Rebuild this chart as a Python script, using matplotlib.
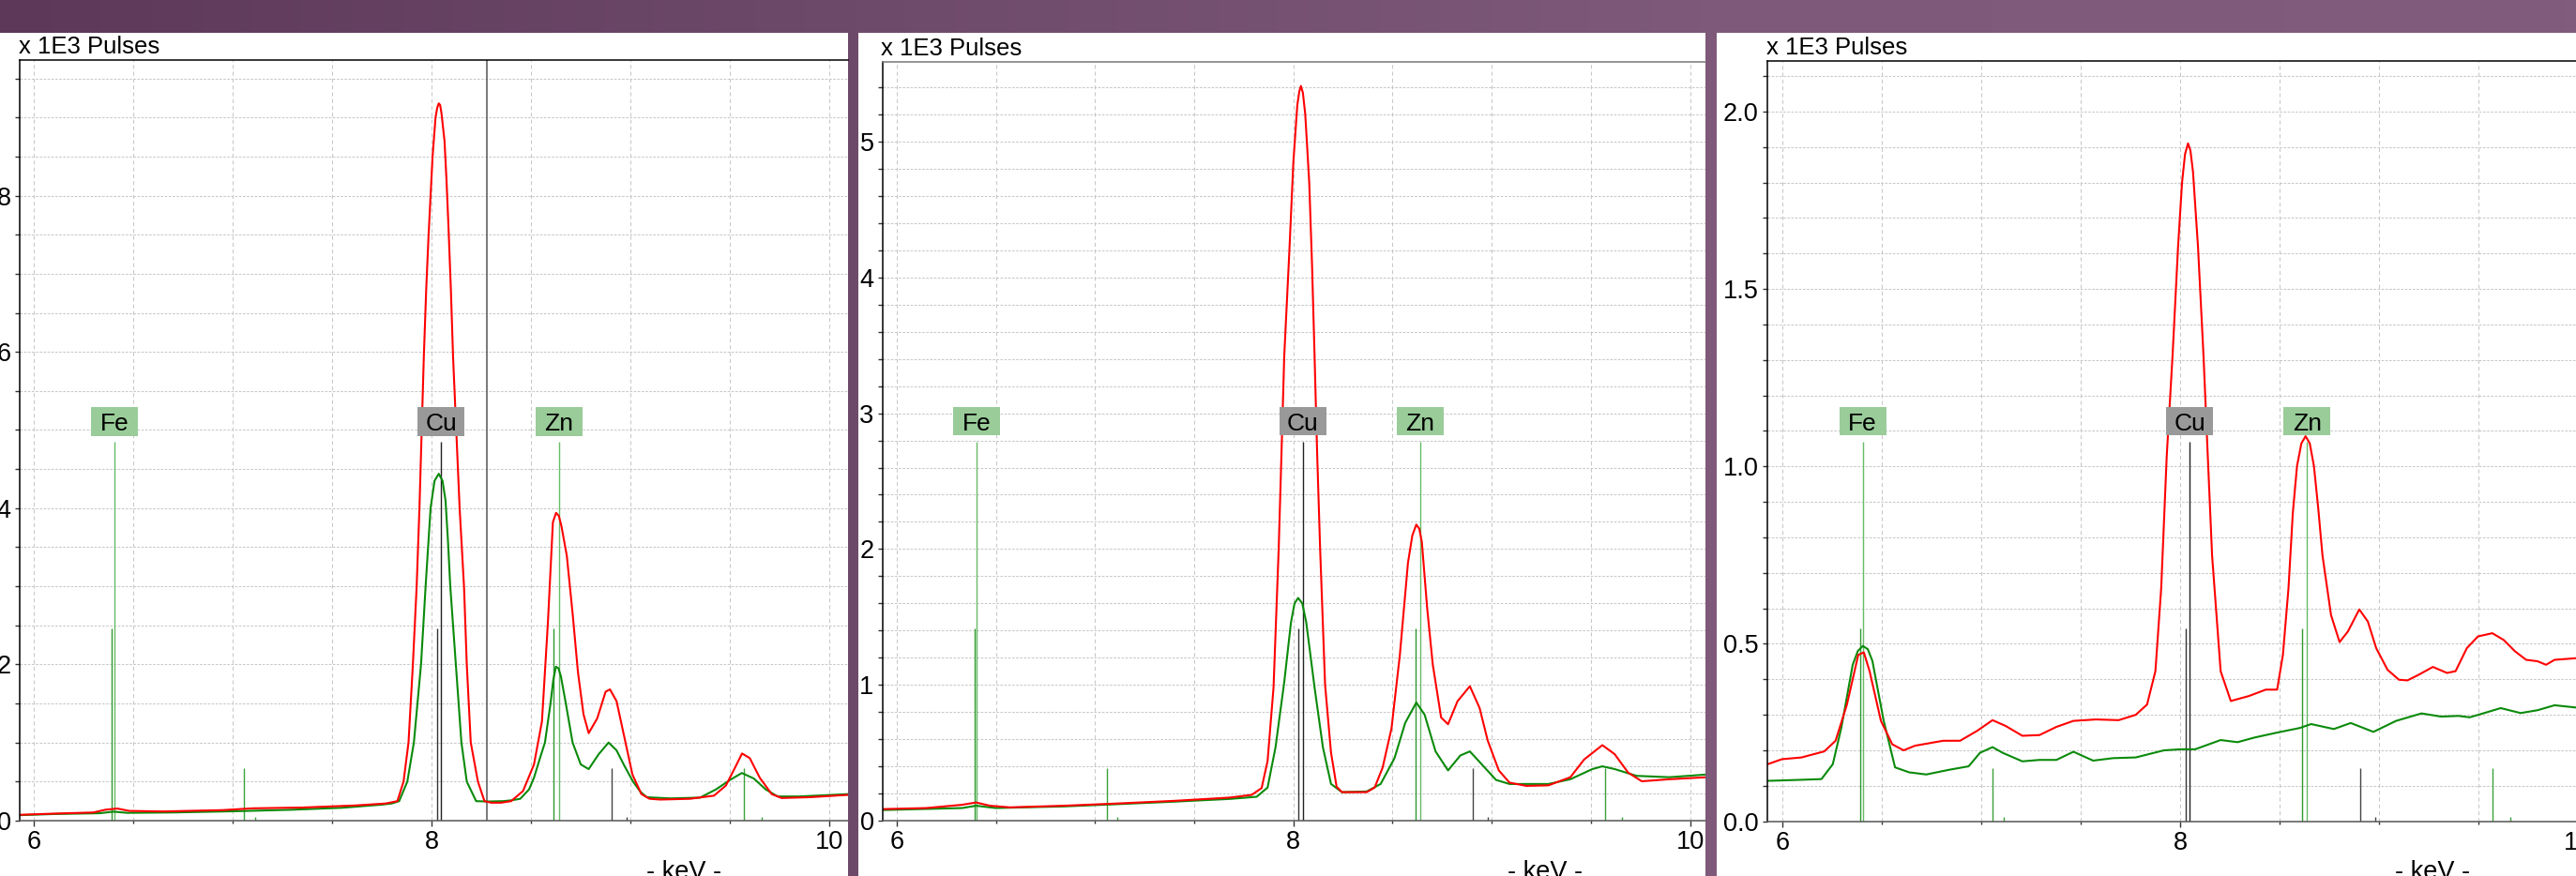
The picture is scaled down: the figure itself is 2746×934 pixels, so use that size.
import numpy as np
import matplotlib
matplotlib.use("Agg")
import matplotlib.pyplot as plt
from matplotlib.patches import Rectangle
from matplotlib.ticker import MultipleLocator, FormatStrFormatter
from matplotlib.colors import LinearSegmentedColormap

plt.rcParams['font.family'] = ['Liberation Sans', 'DejaVu Sans']

# ---------------- data ----------------
# Panel 1 spectra (keV, x1E3 pulses)
p1_red_kev = [5.929, 6.10, 6.30, 6.36, 6.42, 6.48, 6.65, 6.95, 7.10, 7.35, 7.62, 7.77,
              7.828, 7.859, 7.884, 7.906, 7.925, 7.939, 7.961, 7.973, 7.985, 8.005, 8.02, 8.028,
              8.036, 8.043, 8.05, 8.065, 8.075, 8.085, 8.097, 8.108, 8.141, 8.163, 8.177, 8.197,
              8.233, 8.266, 8.30, 8.35, 8.40, 8.46, 8.515, 8.555, 8.585, 8.61, 8.626, 8.64,
              8.653, 8.68, 8.71, 8.736, 8.764, 8.79, 8.833, 8.875, 8.897, 8.93, 8.97, 9.01,
              9.055, 9.096, 9.15, 9.30, 9.42, 9.48, 9.53, 9.561, 9.60, 9.65, 9.71, 9.76,
              9.90, 10.094]
p1_red_val = [0.075, 0.09, 0.105, 0.14, 0.155, 0.125, 0.118, 0.135, 0.158, 0.168, 0.195, 0.22,
              0.25, 0.5, 1.0, 2.0, 3.0, 4.0, 5.94, 6.8, 7.5, 8.5, 9.0, 9.12,
              9.18, 9.16, 9.05, 8.7, 8.2, 7.6, 6.8, 5.94, 4.0, 3.0, 2.0, 1.0,
              0.5, 0.25, 0.23, 0.23, 0.25, 0.38, 0.72, 1.27, 2.54, 3.82, 3.94, 3.9,
              3.77, 3.39, 2.63, 1.9, 1.36, 1.12, 1.31, 1.65, 1.68, 1.53, 1.06, 0.59,
              0.34, 0.28, 0.27, 0.28, 0.32, 0.45, 0.7, 0.86, 0.8, 0.55, 0.34, 0.29,
              0.30, 0.33]
p1_grn_kev = [5.929, 6.10, 6.33, 6.40, 6.47, 6.70, 7.00, 7.30, 7.55, 7.75, 7.80, 7.837,
              7.878, 7.911, 7.947, 7.97, 7.995, 8.015, 8.036, 8.055, 8.07, 8.082, 8.094, 8.122,
              8.15, 8.177, 8.224, 8.28, 8.36, 8.40, 8.446, 8.49, 8.515, 8.545, 8.57, 8.598,
              8.612, 8.625, 8.638, 8.65, 8.675, 8.709, 8.75, 8.79, 8.84, 8.89, 8.93, 8.97,
              9.013, 9.05, 9.082, 9.20, 9.35, 9.43, 9.50, 9.56, 9.62, 9.68, 9.74, 9.85, 10.094]
p1_grn_val = [0.07, 0.085, 0.095, 0.115, 0.10, 0.105, 0.12, 0.14, 0.165, 0.205, 0.22, 0.25,
              0.5, 1.0, 2.0, 3.0, 4.0, 4.35, 4.44, 4.35, 4.1, 3.6, 3.0, 2.0,
              1.0, 0.5, 0.25, 0.245, 0.25, 0.26, 0.28, 0.4, 0.55, 0.8, 1.0, 1.5,
              1.8, 1.97, 1.95, 1.85, 1.5, 1.0, 0.72, 0.66, 0.85, 1.0, 0.9, 0.7,
              0.5, 0.37, 0.3, 0.285, 0.295, 0.4, 0.52, 0.61, 0.54, 0.4, 0.31, 0.31, 0.34]

# Panel 2 spectra
p2_red_kev = [5.924, 6.15, 6.33, 6.40, 6.47, 6.57, 6.845, 7.12, 7.40, 7.68, 7.79, 7.84,
              7.87, 7.90, 7.926, 7.94, 7.954, 7.98, 8.00, 8.02, 8.03, 8.038, 8.048, 8.06,
              8.08, 8.094, 8.107, 8.12, 8.135, 8.16, 8.19, 8.218, 8.245, 8.37, 8.41, 8.45,
              8.495, 8.537, 8.578, 8.60, 8.62, 8.635, 8.648, 8.675, 8.703, 8.745, 8.78, 8.828,
              8.89, 8.939, 8.98, 9.036, 9.09, 9.175, 9.286, 9.397, 9.466, 9.558, 9.62, 9.688,
              9.757, 9.896, 10.085]
p2_red_val = [0.085, 0.093, 0.117, 0.134, 0.11, 0.098, 0.11, 0.127, 0.146, 0.17, 0.19, 0.24,
              0.44, 0.98, 2.0, 2.7, 3.42, 4.2, 4.85, 5.27, 5.37, 5.41, 5.36, 5.2,
              4.7, 4.1, 3.42, 2.7, 2.0, 1.0, 0.5, 0.25, 0.21, 0.21, 0.244, 0.39,
              0.68, 1.22, 1.9, 2.1, 2.18, 2.15, 2.05, 1.56, 1.15, 0.76, 0.71, 0.88,
              0.99, 0.83, 0.59, 0.37, 0.28, 0.256, 0.26, 0.32, 0.45, 0.556, 0.49, 0.354,
              0.29, 0.305, 0.32]
p2_grn_kev = [5.924, 6.33, 6.40, 6.50, 6.845, 7.12, 7.40, 7.68, 7.815, 7.87, 7.91, 7.954,
              7.988, 8.006, 8.024, 8.045, 8.065, 8.107, 8.149, 8.19, 8.245, 8.37, 8.44, 8.51,
              8.564, 8.62, 8.662, 8.717, 8.78, 8.842, 8.89, 8.953, 9.022, 9.09, 9.286, 9.397,
              9.508, 9.558, 9.62, 9.73, 9.896, 10.085]
p2_grn_val = [0.078, 0.093, 0.11, 0.093, 0.105, 0.122, 0.14, 0.16, 0.176, 0.244, 0.54, 1.02,
              1.46, 1.6, 1.64, 1.6, 1.46, 0.98, 0.54, 0.27, 0.21, 0.215, 0.27, 0.46,
              0.72, 0.87, 0.78, 0.51, 0.37, 0.48, 0.51, 0.41, 0.30, 0.27, 0.27, 0.305,
              0.38, 0.40, 0.38, 0.33, 0.32, 0.34]

# Panel 3 spectra
p3_red_kev = [5.927, 5.998, 6.097, 6.211, 6.268, 6.325, 6.382, 6.41, 6.439, 6.496, 6.553, 6.61,
              6.667, 6.809, 6.894, 6.98, 7.057, 7.122, 7.207, 7.293, 7.378, 7.464, 7.577, 7.691,
              7.777, 7.834, 7.876, 7.905, 7.933, 7.962, 7.99, 8.01, 8.025, 8.04, 8.052, 8.065,
              8.09, 8.118, 8.14, 8.161, 8.204, 8.255, 8.346, 8.431, 8.488, 8.517, 8.545, 8.567,
              8.588, 8.61, 8.631, 8.652, 8.673, 8.695, 8.716, 8.759, 8.802, 8.844, 8.901, 8.944,
              8.986, 9.043, 9.10, 9.143, 9.20, 9.271, 9.342, 9.385, 9.442, 9.498, 9.57, 9.627,
              9.684, 9.74, 9.797, 9.84, 9.883, 10.001]
p3_red_val = [0.161, 0.175, 0.18, 0.197, 0.227, 0.329, 0.469, 0.476, 0.423, 0.283, 0.217, 0.20,
              0.213, 0.227, 0.227, 0.255, 0.285, 0.269, 0.241, 0.243, 0.266, 0.283, 0.287, 0.285,
              0.30, 0.329, 0.423, 0.656, 1.03, 1.31, 1.62, 1.80, 1.88, 1.91, 1.89, 1.83,
              1.62, 1.31, 1.02, 0.749, 0.423, 0.339, 0.353, 0.371, 0.371, 0.469, 0.656, 0.87,
              1.001, 1.065, 1.085, 1.065, 1.001, 0.88, 0.749, 0.581, 0.505, 0.535, 0.597, 0.563,
              0.488, 0.427, 0.399, 0.397, 0.413, 0.435, 0.418, 0.423, 0.488, 0.521, 0.53, 0.511,
              0.479, 0.455, 0.451, 0.441, 0.455, 0.46]
p3_grn_kev = [5.927, 6.097, 6.197, 6.254, 6.297, 6.354, 6.38, 6.405, 6.43, 6.453, 6.51, 6.567,
              6.638, 6.724, 6.837, 6.937, 6.994, 7.057, 7.108, 7.207, 7.293, 7.378, 7.464, 7.563,
              7.663, 7.777, 7.919, 8.004, 8.076, 8.204, 8.289, 8.374, 8.488, 8.602, 8.659, 8.773,
              8.858, 8.972, 9.086, 9.214, 9.313, 9.399, 9.456, 9.541, 9.612, 9.712, 9.797, 9.883,
              10.001]
p3_grn_val = [0.114, 0.117, 0.119, 0.161, 0.264, 0.441, 0.48, 0.494, 0.485, 0.452, 0.283, 0.152,
              0.138, 0.132, 0.145, 0.155, 0.193, 0.209, 0.193, 0.169, 0.173, 0.173, 0.196, 0.171,
              0.178, 0.180, 0.200, 0.203, 0.203, 0.229, 0.223, 0.236, 0.250, 0.263, 0.274, 0.260,
              0.277, 0.252, 0.283, 0.304, 0.295, 0.297, 0.293, 0.307, 0.319, 0.305, 0.313, 0.327,
              0.32]

# element markers
element_names = ['Fe', 'Cu', 'Zn']
element_label_kev = [6.404, 8.048, 8.639]
element_alpha2_kev = [6.391, 8.027, 8.615]
element_beta_kev = [7.058, 8.905, 9.572]
element_edge_kev = [7.112, 8.979, 9.659]

y_label_text = 'x 1E3 Pulses'
x_label_text = '- keV -'
cursor_kev = 8.278

# ---------------- styles / layout ----------------
W, H = 2746, 934
fig = plt.figure(figsize=(W / 100, H / 100), dpi=100)

bg = fig.add_axes([0, 0, 1, 1])
cmap = LinearSegmentedColormap.from_list('p', [(0, '#5d3859'), (0.33, '#6e4a6a'), (0.66, '#7e5979'), (1, '#825c7c')])
grad = np.linspace(0, 1, 512).reshape(1, -1)
bg.imshow(grad, aspect='auto', cmap=cmap, extent=[0, W, 0, H])
bg.set_xlim(0, W)
bg.set_ylim(H, 0)
bg.axis('off')
for (x0, x1) in [(0, 904), (915, 1818), (1830, W)]:
    bg.add_patch(Rectangle((x0, 35), x1 - x0, H - 35, facecolor='white', edgecolor='none'))

panels = [
    dict(px=(21, 904, 64, 875), xlim=(5.929, 10.094), ylim=(0, 9.735), major=2, minor=0.5,
         fmt='%d', red=(p1_red_kev, p1_red_val), grn=(p1_grn_kev, p1_grn_val), cursor=True, top='black'),
    dict(px=(940.7, 1818, 66, 875), xlim=(5.928, 10.078), ylim=(0, 5.587), major=1, minor=0.2,
         fmt='%d', red=(p2_red_kev, p2_red_val), grn=(p2_grn_kev, p2_grn_val), cursor=False, top='#777777'),
    dict(px=(1884, 2748.2, 64.7, 875.7), xlim=(5.925, 10.001), ylim=(0, 2.143), major=0.5, minor=0.1,
         fmt='%.1f', red=(p3_red_kev, p3_red_val), grn=(p3_grn_kev, p3_grn_val), cursor=False, top='black'),
]

label_green = '#99cc99'
label_gray = '#999999'

for p in panels:
    l, r, t, b = p['px']
    ax = fig.add_axes([l / W, (H - b) / H, (r - l) / W, (b - t) / H])
    ax.set_facecolor('none')
    ax.set_xlim(*p['xlim'])
    ax.set_ylim(*p['ylim'])
    px_per_kev = (r - l) / (p['xlim'][1] - p['xlim'][0])
    ax_h = b - t

    ax.xaxis.set_major_locator(MultipleLocator(2))
    ax.xaxis.set_minor_locator(MultipleLocator(0.5))
    ax.yaxis.set_major_locator(MultipleLocator(p['major']))
    ax.yaxis.set_minor_locator(MultipleLocator(p['minor']))
    ax.yaxis.set_major_formatter(FormatStrFormatter(p['fmt']))
    ax.set_axisbelow(True)
    ax.grid(which='both', axis='x', color='#c8c8c8', linestyle=(0, (4, 3)), lw=0.75)
    ax.grid(which='both', axis='y', color='#c8c8c8', linestyle=(0, (2.5, 1.5)), lw=0.75)

    ax.tick_params(axis='x', which='major', direction='out', length=4.3, width=1, color='#333333',
                   labelsize=19.5, pad=3)
    ax.tick_params(axis='x', which='minor', direction='out', length=2.5, width=1, color='#333333')
    ax.tick_params(axis='y', which='both', direction='out', length=3.3, width=1, color='#333333',
                   labelsize=19.5, pad=3.3)

    ax.spines['right'].set_visible(False)
    ax.spines['left'].set_color('black')
    ax.spines['top'].set_color(p['top'])
    ax.spines['bottom'].set_color('#555555')
    for s in ax.spines.values():
        s.set_linewidth(1.1)

    xt = ax.get_xaxis_transform()
    # element marker lines
    for i, name in enumerate(element_names):
        is_cu = name == 'Cu'
        tall_c = '#222222' if is_cu else '#66bb66'
        mid_c = '#333333' if is_cu else '#2e9a2e'
        beta_c = '#444444' if is_cu else '#3aa33a'
        ax.vlines(element_label_kev[i], 0, (b - 471) / ax_h, transform=xt, color=tall_c, lw=1.0, zorder=1.5)
        ax.vlines(element_alpha2_kev[i], 0, (b - 670) / ax_h, transform=xt, color=mid_c, lw=1.0, zorder=1.5)
        ax.vlines(element_beta_kev[i], 0, (b - 819) / ax_h, transform=xt, color=beta_c, lw=1.0, zorder=1.5)
        ax.vlines(element_edge_kev[i], 0, 4.5 / ax_h, transform=xt, color=beta_c, lw=1.0, zorder=1.5)
        # label box
        bw = 50 / px_per_kev
        bh = 30 / ax_h
        yc = (b - 449.5) / ax_h
        ax.add_patch(Rectangle((element_label_kev[i] - bw / 2, yc - bh / 2), bw, bh, transform=xt,
                               facecolor=label_gray if is_cu else label_green, edgecolor='none',
                               zorder=3, clip_on=False))
        ax.text(element_label_kev[i], yc, name, transform=xt, ha='center', va='center_baseline',
                fontsize=19, color='black', zorder=4)

    if p['cursor']:
        ax.axvline(cursor_kev, color='#555555', lw=1.1, zorder=1.6)

    ax.plot(p['grn'][0], p['grn'][1], color='#0a8a0a', lw=1.5, zorder=2)
    ax.plot(p['red'][0], p['red'][1], color='#ff0000', lw=1.5, zorder=2.1)

    ax.annotate(y_label_text, xy=(0, 1), xycoords='axes fraction', xytext=(-1, 5),
                textcoords='offset points', ha='left', va='baseline', fontsize=18.5, color='black',
                annotation_clip=False)
    ax.annotate(x_label_text, xy=(9.27, 0), xycoords=('data', 'axes fraction'), xytext=(0, -30),
                textcoords='offset points', ha='center', va='top', fontsize=19.5, color='black',
                annotation_clip=False)

fig.savefig('out.png', dpi=100)
